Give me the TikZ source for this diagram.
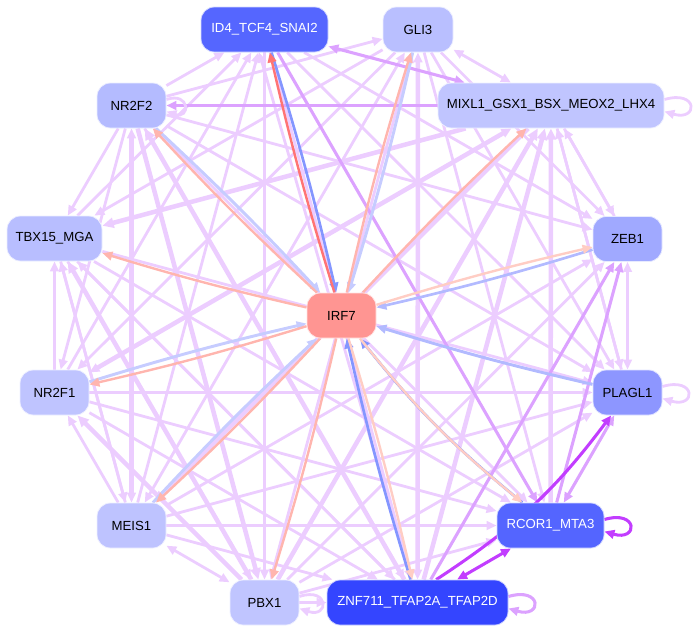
\documentclass[tikz,border=0pt]{standalone}
\usepackage{fontspec}
\setmainfont{Liberation Sans}
\usetikzlibrary{arrows.meta,backgrounds}
\definecolor{pl}{HTML}{ECCDFF}
\definecolor{pm}{HTML}{DCA2FF}
\definecolor{pb}{HTML}{C23DFF}
\definecolor{bd}{HTML}{8496FF}
\definecolor{bl}{HTML}{C6CCFF}
\definecolor{bm}{HTML}{B2BAFF}
\definecolor{rd}{HTML}{FF7474}
\definecolor{rs}{HTML}{FFB5AE}
\definecolor{rl}{HTML}{FFCDC4}
\definecolor{cID}{HTML}{5566FF}
\definecolor{cGLI}{HTML}{B9BFFF}
\definecolor{cNR2}{HTML}{B4BBFF}
\definecolor{cMIX}{HTML}{C0C5FF}
\definecolor{cTBX}{HTML}{B8BEFF}
\definecolor{cZEB}{HTML}{A0A9FF}
\definecolor{cIRF}{HTML}{FF9592}
\definecolor{cNR1}{HTML}{BFC4FF}
\definecolor{cPLA}{HTML}{8D96FF}
\definecolor{cMEI}{HTML}{BEC3FF}
\definecolor{cRCO}{HTML}{5465FF}
\definecolor{cPBX}{HTML}{C0C5FF}
\definecolor{cZNF}{HTML}{3445FF}
\tikzset{
  gn/.style={rounded corners=10pt, minimum height=33.75pt, inner sep=0pt,
    font=\fontsize{9.9}{11}\selectfont, draw=white!75!#1, fill=#1, line width=0.6pt},
  tip/.style={-{Triangle[length=7.5pt,width=6.5pt]}},
  tipd/.style={{Triangle[length=7.5pt,width=6.5pt]}-{Triangle[length=7.5pt,width=6.5pt]}},
  tipE/.style={-{Triangle[length=8.5pt,width=7.5pt]}},
  pe/.style={draw=pl, line width=2.1pt, tip},
  pE/.style={draw=pl, line width=3.4pt, tipE},
  pm/.style={draw=pm, line width=2.3pt, tip},
  pb/.style={draw=pb, line width=2.3pt, tip},
  ib/.style={draw=bd, line width=2pt, tip, bend left=2},
  il/.style={draw=bl, line width=2.2pt, tip, bend left=2},
  ir/.style={draw=rd, line width=1.8pt, tip, bend left=2},
  is/.style={draw=rs, line width=1.8pt, tip, bend left=2},
  isl/.style={draw=rl, line width=1.8pt, tip, bend left=2}
}
\begin{document}
\begin{tikzpicture}[x=0.75pt,y=-0.75pt]
\useasboundingbox (0,0) rectangle (695,632);
\node[gn=cID, minimum width=95.25pt, text=white] (ID4) at (264.5,29.5) {ID4\_TCF4\_SNAI2};
\node[gn=cGLI, minimum width=52.5pt] (GLI3) at (418,29.5) {GLI3};
\node[gn=cNR2, minimum width=51.75pt] (NR2F2) at (131.5,105.5) {NR2F2};
\node[gn=cMIX, minimum width=169.5pt] (MIXL1) at (551,105.5) {MIXL1\_GSX1\_BSX\_MEOX2\_LHX4};
\node[gn=cTBX, minimum width=71.25pt] (TBX15) at (54.5,238.5) {TBX15\_MGA};
\node[gn=cZEB, minimum width=51.75pt] (ZEB1) at (627.5,239) {ZEB1};
\node[gn=cIRF, minimum width=51.75pt] (IRF7) at (341.5,315.5) {IRF7};
\node[gn=cNR1, minimum width=51.75pt] (NR2F1) at (54.5,392.5) {NR2F1};
\node[gn=cPLA, minimum width=51.75pt] (PLAGL1) at (627.5,392.5) {PLAGL1};
\node[gn=cMEI, minimum width=51.75pt] (MEIS1) at (131.5,525.5) {MEIS1};
\node[gn=cRCO, minimum width=80.25pt, text=white] (RCOR1) at (550.5,525.5) {RCOR1\_MTA3};
\node[gn=cPBX, minimum width=51.75pt] (PBX1) at (264.5,602.5) {PBX1};
\node[gn=cZNF, minimum width=135.75pt, text=white] (ZNF711) at (417.5,602.5) {ZNF711\_TFAP2A\_TFAP2D};
\begin{pgfonlayer}{background}
% light purple edges
\draw[pe] (NR2F2) -- (ID4);
\draw[pe] (NR2F2) -- (GLI3);
\draw[pe] (NR2F2) -- (TBX15);
\draw[pE,tipd] (NR2F2) -- (MEIS1);
\draw[pE] (NR2F2) -- (PBX1);
\draw[pe] (NR2F2) -- (ZNF711);
\draw[pe] (NR2F2) -- (RCOR1);
\draw[pe] (NR2F2) -- (PLAGL1);
\draw[pe] (NR2F2) -- (NR2F1);
\draw[pe] (NR2F2) -- (ZEB1);
\draw[pe,tipd] (GLI3) -- (MIXL1);
\draw[pE] (MIXL1) -- (TBX15);
\draw[pE,tipd] (MIXL1) -- (NR2F1);
\draw[pE] (MIXL1) -- (MEIS1);
\draw[pe] (MIXL1) -- (ZEB1);
\draw[pe] (MIXL1) -- (PLAGL1);
\draw[pe] (ZEB1) -- (MIXL1);
\draw[pE] (ZNF711) -- (MIXL1);
\draw[pE] (RCOR1) -- (MIXL1);
\draw[pe] (PLAGL1) -- (MIXL1);
\draw[pE] (PBX1) -- (MIXL1);
\draw[pe] (GLI3) -- (TBX15);
\draw[pe] (GLI3) -- (NR2F1);
\draw[pe,tipd] (GLI3) -- (MEIS1);
\draw[pe,tipd] (GLI3) -- (PBX1);
\draw[pE,tipd] (GLI3) -- (ZNF711);
\draw[pe] (GLI3) -- (RCOR1);
\draw[pe] (GLI3) -- (PLAGL1);
\draw[pe] (GLI3) -- (ZEB1);
\draw[pe] (ID4) -- (PBX1);
\draw[pe] (ID4) -- (ZNF711);
\draw[pe] (ID4) -- (PLAGL1);
\draw[pe] (ID4) -- (ZEB1);
\draw[pe] (MEIS1) -- (ID4);
\draw[pe] (NR2F1) -- (ID4);
\draw[pe] (ZNF711) -- ([xshift=-4pt]ID4.south);
\draw[pe] (TBX15) -- (ID4);
\draw[pe] (TBX15) -- (PLAGL1);
\draw[pe] (TBX15) -- (RCOR1);
\draw[pe] (TBX15) -- (PBX1);
\draw[pe] (TBX15) -- (ZNF711);
\draw[pe] (TBX15) -- (MEIS1);
\draw[pe] (NR2F1) -- (TBX15);
\draw[pe] (MEIS1) -- (TBX15);
\draw[pE] (PBX1) -- (TBX15);
\draw[pe,tipd] (ZEB1) -- (PLAGL1);
\draw[pe] (PBX1) -- (ZEB1);
\draw[pe] (MEIS1) -- (ZEB1);
\draw[pe] (NR2F1) -- (RCOR1);
\draw[pe] (NR2F1) -- (ZNF711);
\draw[pe] (NR2F1) -- (PLAGL1);
\draw[pe] (MEIS1) -- (NR2F1);
\draw[pE] (PBX1) -- (NR2F1);
\draw[pe] (MEIS1) -- (RCOR1);
\draw[pe] (MEIS1) -- (ZNF711);
\draw[pe,tipd] (MEIS1) -- (PBX1);
\draw[pe] (MEIS1) -- (PLAGL1);
\draw[pe] (PBX1) -- (RCOR1);
\draw[pe] (PBX1) -- (PLAGL1);
\draw[pe] (PBX1) -- (ZNF711);
\draw[pE] (ZNF711) -- (NR2F2);
\draw[pe] (ZNF711) -- (TBX15);
% medium purple
\draw[pm] (MIXL1) -- (NR2F2);
\draw[pm,tipd] (ID4) -- (MIXL1);
\draw[pm] (ID4) -- (RCOR1);
\draw[pm] (RCOR1) -- (ZEB1);
\draw[pm] (ZNF711) -- (ZEB1);
\draw[pm,tipd] (PLAGL1) -- (RCOR1);
% bright purple
\draw[pb] ([xshift=14pt]ZNF711.north) to[bend right=10] (PLAGL1);
\draw[pb,tipd] (ZNF711) -- (RCOR1);
% self loops
\draw[pe] ([yshift=4.5pt]NR2F2.east) .. controls +(24,-8) and +(24,8) .. ([yshift=-4.5pt]NR2F2.east);
\draw[pe] ([yshift=4.5pt]MIXL1.east) .. controls +(34,-10) and +(34,10) .. ([yshift=-4.5pt]MIXL1.east);
\draw[pe] ([yshift=4.5pt]PLAGL1.east) .. controls +(34,-10) and +(34,10) .. ([yshift=-4.5pt]PLAGL1.east);
\draw[pb] ([yshift=4.5pt]RCOR1.east) .. controls +(34,-10) and +(34,10) .. ([yshift=-4.5pt]RCOR1.east);
\draw[pm] ([yshift=4.5pt]ZNF711.east) .. controls +(34,-10) and +(34,10) .. ([yshift=-4.5pt]ZNF711.east);
\draw[pe] ([yshift=4.5pt]PBX1.east) .. controls +(30,-10) and +(30,10) .. ([yshift=-4.5pt]PBX1.east);
% IRF7 edges
\draw[il] (NR2F2) to (IRF7);
\draw[is] (IRF7) to (NR2F2);
\draw[il] (GLI3) to (IRF7);
\draw[is] (IRF7) to (GLI3);
\draw[is] (IRF7) to (MIXL1);
\draw[is] (IRF7) to (TBX15);
\draw[ib,draw=bm] (ZEB1) to (IRF7);
\draw[isl] (IRF7) to (ZEB1);
\draw[il,draw=bm] (PLAGL1) to (IRF7);
\draw[il] (NR2F1) to (IRF7);
\draw[is] (IRF7) to (NR2F1);
\draw[il] (MEIS1) to (IRF7);
\draw[is] (IRF7) to (MEIS1);
\draw[is] (IRF7) to (PBX1);
\draw[ib] (ZNF711) to (IRF7);
\draw[isl] (IRF7) to (ZNF711);
\draw[ib] (RCOR1) to[bend left=6] (IRF7);
\draw[isl] (IRF7) to[bend right=6] (RCOR1);
\draw[ib] (ID4) to (IRF7);
\draw[ir] (IRF7) to (ID4);
\end{pgfonlayer}
\end{tikzpicture}
\end{document}
